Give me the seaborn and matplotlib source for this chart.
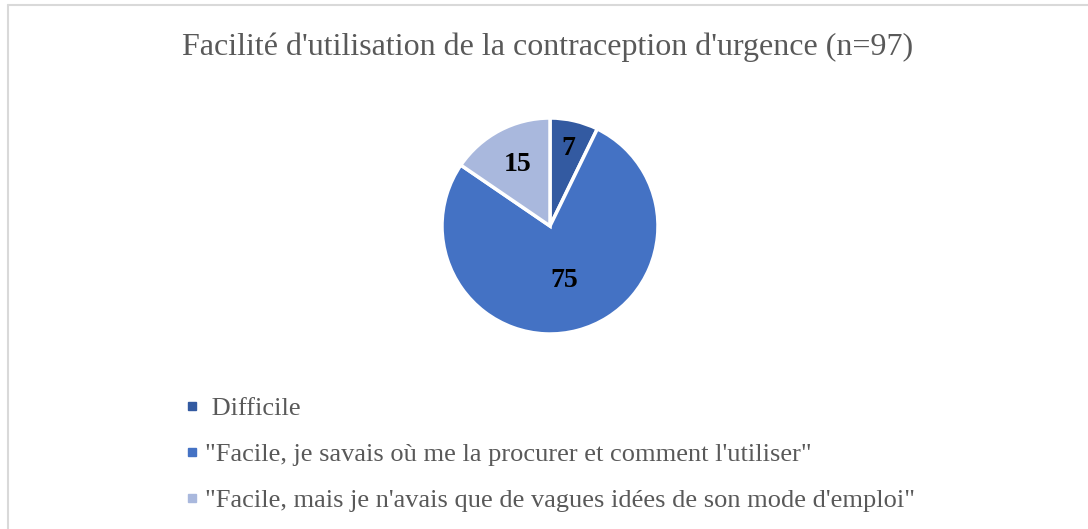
import matplotlib
matplotlib.use('Agg')
import matplotlib.pyplot as plt
import seaborn as sns
import numpy as np
from matplotlib.lines import Line2D

# Data
categories = [' Difficile',
              '"Facile, je savais où me la procurer et comment l\'utiliser"',
              '"Facile, mais je n\'avais que de vagues idées de son mode d\'emploi"']
counts = [7, 75, 15]
colors = ['#335AA1', '#4472C4', '#A9B8DD']
title = "Facilité d'utilisation de la contraception d'urgence (n=97)"

sns.set_theme(style='white')
plt.rcParams['font.family'] = ['Liberation Serif', 'DejaVu Serif']

fig = plt.figure(figsize=(10.88, 5.29), dpi=100)

# chart border (light gray, clipped at right and bottom like the original)
fig.add_artist(Line2D([8/1088, 1], [1 - 5/529, 1 - 5/529], color='#D9D9D9', lw=1.5))
fig.add_artist(Line2D([8/1088, 8/1088], [0, 1 - 5/529], color='#D9D9D9', lw=1.5))

fig.text(548/1088, 1 - 47/529, title, ha='center', va='center', fontsize=23, color='#595959')

# Pie
ax = fig.add_axes([(550 - 108) / 1088, (529 - 226 - 108) / 529, 216 / 1088, 216 / 529])
wedges, _ = ax.pie(counts, colors=colors, startangle=90, counterclock=False,
                   wedgeprops=dict(edgecolor='white', linewidth=2.5))
ax.set_xlim(-1, 1)
ax.set_ylim(-1, 1)
ax.set_aspect('equal')

label_r = [0.74, 0.52, 0.64]
for w, n, r in zip(wedges, counts, label_r):
    mid = np.deg2rad((w.theta1 + w.theta2) / 2)
    ax.text(r * np.cos(mid), r * np.sin(mid), str(n), ha='center', va='center',
            fontsize=20, fontweight='bold', color='black')

# Legend
handles = [Line2D([], [], marker='s', linestyle='', markersize=6, color=c) for c in colors]
fig.legend(handles, categories, loc='upper left', bbox_to_anchor=(175/1088, 1 - 386/529),
           frameon=False, fontsize=19, labelcolor='#595959', handlelength=0.5,
           handletextpad=0.25, labelspacing=0.85, borderaxespad=0)

fig.savefig('out.png', dpi=100)
